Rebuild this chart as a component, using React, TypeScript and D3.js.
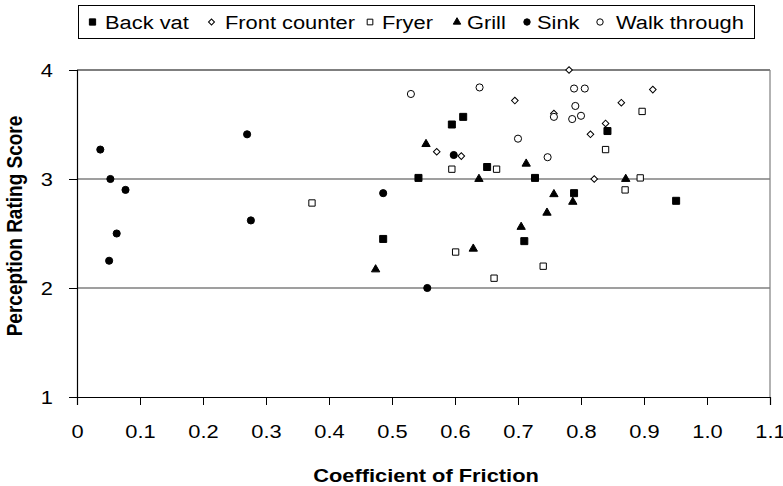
import * as d3 from 'd3';
import React, { useEffect, useRef } from 'react';

// series, [coefficient of friction, rating]
const backVat = [[0.486, 2.45], [0.542, 3.01], [0.595, 3.50], [0.613, 3.57], [0.651, 3.11], [0.710, 2.43], [0.727, 3.01], [0.789, 2.87], [0.842, 3.44], [0.951, 2.80]];
const frontCounter = [[0.571, 3.25], [0.610, 3.21], [0.695, 3.72], [0.757, 3.60], [0.781, 4.0], [0.815, 3.41], [0.821, 3.0], [0.839, 3.51], [0.864, 3.70], [0.914, 3.82]];
const fryer = [[0.373, 2.78], [0.595, 3.09], [0.601, 2.33], [0.662, 2.09], [0.666, 3.09], [0.740, 2.20], [0.839, 3.27], [0.870, 2.90], [0.894, 3.01], [0.897, 3.62]];
const grill = [[0.474, 2.17], [0.554, 3.32], [0.629, 2.36], [0.638, 3.0], [0.705, 2.56], [0.713, 3.14], [0.746, 2.69], [0.757, 2.86], [0.787, 2.79], [0.871, 3.0]];
const sink = [[0.037, 3.27], [0.053, 3.0], [0.063, 2.50], [0.051, 2.25], [0.077, 2.90], [0.270, 3.41], [0.276, 2.62], [0.486, 2.87], [0.556, 2.0], [0.598, 3.22]];
const walkThrough = [[0.530, 3.78], [0.639, 3.84], [0.700, 3.37], [0.747, 3.20], [0.757, 3.57], [0.786, 3.55], [0.789, 3.83], [0.791, 3.67], [0.800, 3.58], [0.806, 3.83]];

const seriesNames = ["Back vat", "Front counter", "Fryer", "Grill", "Sink", "Walk through"];
const xTicks = [0, 0.1, 0.2, 0.3, 0.4, 0.5, 0.6, 0.7, 0.8, 0.9, 1.0, 1.1];
const xTickLabels = ["0", "0.1", "0.2", "0.3", "0.4", "0.5", "0.6", "0.7", "0.8", "0.9", "1.0", "1.1"];
const yTicks = [1, 2, 3, 4];

const FONT = "'Liberation Sans', Arial, sans-serif";
const FS = 19;
// the original text is a bit wider than Arial, stretch it horizontally
const STRETCH = 1.15;

// marker style per series
const markers = [
    { type: d3.symbolSquare, size: 49, fill: "#000", rotate: 0 },
    { type: d3.symbolSquare, size: 22, fill: "#fff", rotate: 45 },
    { type: d3.symbolSquare, size: 40, fill: "#fff", rotate: 0 },
    { type: d3.symbolTriangle, size: 30, fill: "#000", rotate: 0 },
    { type: d3.symbolCircle, size: 40, fill: "#000", rotate: 0 },
    { type: d3.symbolCircle, size: 40, fill: "#fff", rotate: 0 },
];

export default function App() {
    const ref = useRef<SVGSVGElement>(null);

    useEffect(() => {
        const svg = d3.select(ref.current);
        svg.selectAll("*").remove();

        const left = 77, right = 770, top = 70, bottom = 397;
        const x = d3.scaleLinear().domain([0, 1.1]).range([left, right]);
        const y = d3.scaleLinear().domain([1, 4]).range([bottom, top]);

        // grid lines at 2 and 3
        svg.append("g")
            .selectAll("line")
            .data([2, 3])
            .enter()
            .append("line")
            .attr("x1", left).attr("x2", right)
            .attr("y1", d => y(d)).attr("y2", d => y(d))
            .attr("stroke", "#7f7f7f")
            .attr("stroke-width", 1.5);

        // plot frame: top black, right gray
        svg.append("line")
            .attr("x1", left).attr("x2", right)
            .attr("y1", y(4)).attr("y2", y(4))
            .attr("stroke", "#000").attr("stroke-width", 1.2);
        svg.append("line")
            .attr("x1", right).attr("x2", right)
            .attr("y1", y(4)).attr("y2", y(1))
            .attr("stroke", "#7f7f7f").attr("stroke-width", 1.2);

        // y axis
        const yAxis = svg.append("g")
            .attr("transform", `translate(${left},0)`)
            .call(d3.axisLeft(y).tickValues(yTicks).tickSize(8).tickPadding(16).tickFormat(d3.format("d")));
        yAxis.select(".domain").attr("stroke", "#000").attr("stroke-width", 1.2);
        yAxis.selectAll(".tick line").attr("stroke", "#000");
        yAxis.selectAll("text")
            .attr("x", -24 / STRETCH)
            .attr("transform", `scale(${STRETCH},1)`)
            .attr("font-family", FONT).attr("font-size", FS).attr("fill", "#000");

        // x axis
        const xAxis = svg.append("g")
            .attr("transform", `translate(0,${bottom})`)
            .call(d3.axisBottom(x).tickValues(xTicks).tickSize(8).tickPadding(20)
                .tickFormat((d, i) => xTickLabels[i]));
        xAxis.select(".domain").attr("stroke", "#000").attr("stroke-width", 1.2);
        xAxis.selectAll(".tick line").attr("stroke", "#000");
        xAxis.selectAll("text")
            .attr("transform", `scale(${STRETCH},1)`)
            .attr("font-family", FONT).attr("font-size", FS).attr("fill", "#000");

        // axis titles
        svg.append("text")
            .attr("transform", `translate(426,482) scale(${STRETCH},1)`)
            .attr("text-anchor", "middle")
            .attr("font-family", FONT)
            .attr("font-weight", "bold")
            .attr("font-size", FS)
            .text("Coefficient of Friction");

        svg.append("text")
            .attr("transform", `translate(22,226) rotate(-90) scale(1,${STRETCH})`)
            .attr("text-anchor", "middle")
            .attr("font-family", FONT)
            .attr("font-weight", "bold")
            .attr("font-size", FS)
            .text("Perception Rating Score");

        // points
        const allSeries = [backVat, frontCounter, fryer, grill, sink, walkThrough];
        allSeries.forEach((data, i) => {
            const m = markers[i];
            const sym = d3.symbol().type(m.type).size(m.size);
            svg.append("g")
                .selectAll("path")
                .data(data)
                .enter()
                .append("path")
                .attr("d", sym)
                .attr("transform", d => `translate(${x(d[0])},${y(d[1])}) rotate(${m.rotate})`)
                .attr("fill", m.fill)
                .attr("stroke", "#000")
                .attr("stroke-width", 1);
        });

        // legend
        const legend = svg.append("g");
        legend.append("rect")
            .attr("x", 78.5).attr("y", 5.5)
            .attr("width", 676).attr("height", 33)
            .attr("fill", "#fff").attr("stroke", "#000").attr("stroke-width", 1);

        const markerX = [92.5, 211.5, 370, 457, 527, 600];
        const labelX = [105, 225, 382, 467, 537, 616];
        seriesNames.forEach((name, i) => {
            const m = markers[i];
            const sym = d3.symbol().type(m.type).size(m.size * 0.8);
            legend.append("path")
                .attr("d", sym)
                .attr("transform", `translate(${markerX[i]},22) rotate(${m.rotate})`)
                .attr("fill", m.fill)
                .attr("stroke", "#000");
            legend.append("text")
                .attr("transform", `translate(${labelX[i]},29) scale(${STRETCH},1)`)
                .attr("font-family", FONT)
                .attr("font-size", FS)
                .text(name);
        });
    }, []);

    return <svg ref={ref} width={783} height={486}
        style={{ position: 'absolute', left: 0, top: 0, background: '#fff' }} />;
}
